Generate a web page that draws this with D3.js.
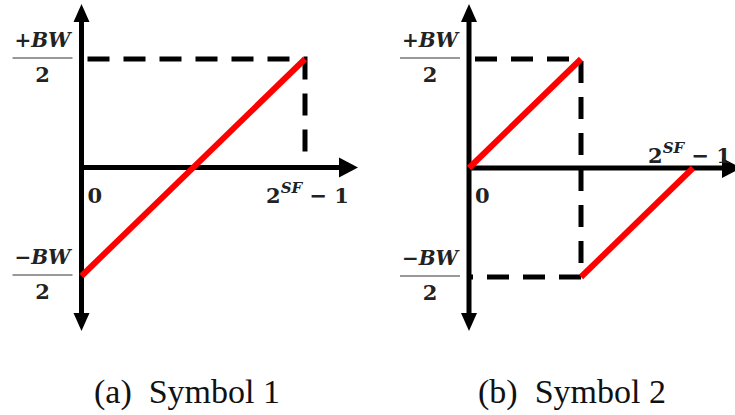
<!DOCTYPE html>
<style>
body { margin: 0; background: #fff; }
</style>
<svg width="735" height="415"></svg>
<script src="https://d3js.org/d3.v7.min.js"></script>
<script>

// values: x is a fraction of (2^SF - 1), y is in units of BW/2
const captions = ['(a)  Symbol 1', '(b)  Symbol 2'];
const yTicks = [1, -1];
const yTickSigns = ['+', '\u2212'];
const symbol1 = [[[0, -1], [1, 1]]];
const symbol2 = [[[0, 0], [0.5, 1]], [[0.5, -1], [1, 0]]];
const guides1 = [[[0, 1], [1, 1], [1, 0]]];
const guides2 = [[[0, 1], [0.5, 1], [0.5, -1], [0, -1]]];

const svg = d3.select('svg');

const panels = [
	{ox: 81.5, xEnd: 305, yTop: 59, yBot: 276, right: 358, cap: 187, sfEnd: true, lines: symbol1, guides: guides1, caption: captions[0]},
	{ox: 469, xEnd: 693, yTop: 59, yBot: 277, right: 741, cap: 572, sfEnd: false, lines: symbol2, guides: guides2, caption: captions[1]}
];

const line = d3.line();

panels.forEach((p) => {
	const x = d3.scaleLinear().domain([0, 1]).range([p.ox, p.xEnd]);
	const y = d3.scaleLinear().domain([-1, 1]).range([p.yBot, p.yTop]);
	const g = svg.append('g');

	// dashed guides
	g.selectAll('.guide')
		.data(p.guides)
		.enter().append('path')
		.attr('d', (d) => line(d.map((v) => [x(v[0]), y(v[1])])))
		.attr('fill', 'none')
		.attr('stroke', '#000')
		.attr('stroke-width', 5)
		.attr('stroke-dasharray', '22,14')
		.attr('stroke-dashoffset', -6);

	// axes
	const y0 = y(0);
	g.append('line')
		.attr('x1', p.ox).attr('x2', p.right - 16)
		.attr('y1', y0).attr('y2', y0)
		.attr('stroke', '#000').attr('stroke-width', 5);
	g.append('polygon')
		.attr('points', `${p.right},${y0} ${p.right - 19},${y0 - 10} ${p.right - 19},${y0 + 10}`);
	g.append('line')
		.attr('x1', p.ox).attr('x2', p.ox)
		.attr('y1', 20).attr('y2', 315)
		.attr('stroke', '#000').attr('stroke-width', 5);
	g.append('polygon')
		.attr('points', `${p.ox},4 ${p.ox - 8},22 ${p.ox + 8},22`);
	g.append('polygon')
		.attr('points', `${p.ox},331 ${p.ox - 8},313 ${p.ox + 8},313`);

	// red symbol lines
	g.selectAll('.sym')
		.data(p.lines)
		.enter().append('path')
		.attr('d', (d) => line(d.map((v) => [x(v[0]), y(v[1])])))
		.attr('fill', 'none')
		.attr('stroke', '#ff0000')
		.attr('stroke-width', 6);

	// y labels as fractions
	yTicks.forEach((t, i) => {
		const cx = p.ox - 39;
		const ly = y(t) - 1;
		const num = g.append('text')
			.attr('x', cx).attr('y', ly - 11)
			.attr('text-anchor', 'middle')
			.attr('font-family', 'DejaVu Serif')
			.attr('font-weight', 'bold')
			.attr('font-size', 20)
			.attr('fill', '#222');
		num.append('tspan').text(yTickSigns[i]);
		num.append('tspan').attr('font-style', 'italic').text('BW');
		g.append('line')
			.attr('x1', cx - 30).attr('x2', cx + 30)
			.attr('y1', ly).attr('y2', ly)
			.attr('stroke', '#777').attr('stroke-width', 1.5);
		g.append('text')
			.attr('x', cx).attr('y', ly + 24)
			.attr('text-anchor', 'middle')
			.attr('font-family', 'DejaVu Serif')
			.attr('font-weight', 'bold')
			.attr('font-size', 21)
			.attr('fill', '#222')
			.text('2');
	});

	// x labels
	g.append('text')
		.attr('x', p.ox + 6).attr('y', 203)
		.attr('font-family', 'DejaVu Serif')
		.attr('font-weight', 'bold')
		.attr('font-size', 21)
		.attr('fill', '#222')
		.text('0');
	const sf = g.append('text')
		.attr('x', p.sfEnd ? x(1) + 44 : x(1) - 45)
		.attr('y', p.sfEnd ? 203 : 163)
		.attr('text-anchor', p.sfEnd ? 'end' : 'start')
		.attr('font-family', 'DejaVu Serif')
		.attr('font-weight', 'bold')
		.attr('font-size', 21)
		.attr('fill', '#222');
	sf.append('tspan').text('2');
	sf.append('tspan').attr('font-size', 15).attr('font-style', 'italic').attr('dy', -10).text('SF');
	sf.append('tspan').attr('dy', 10).text(' \u2212 1');

	// caption
	g.append('text')
		.attr('x', p.cap).attr('y', 403)
		.attr('text-anchor', 'middle')
		.attr('font-family', 'Liberation Serif')
		.attr('font-size', 34)
		.attr('fill', '#111')
		.style('white-space', 'pre')
		.text(p.caption);
});

</script>
